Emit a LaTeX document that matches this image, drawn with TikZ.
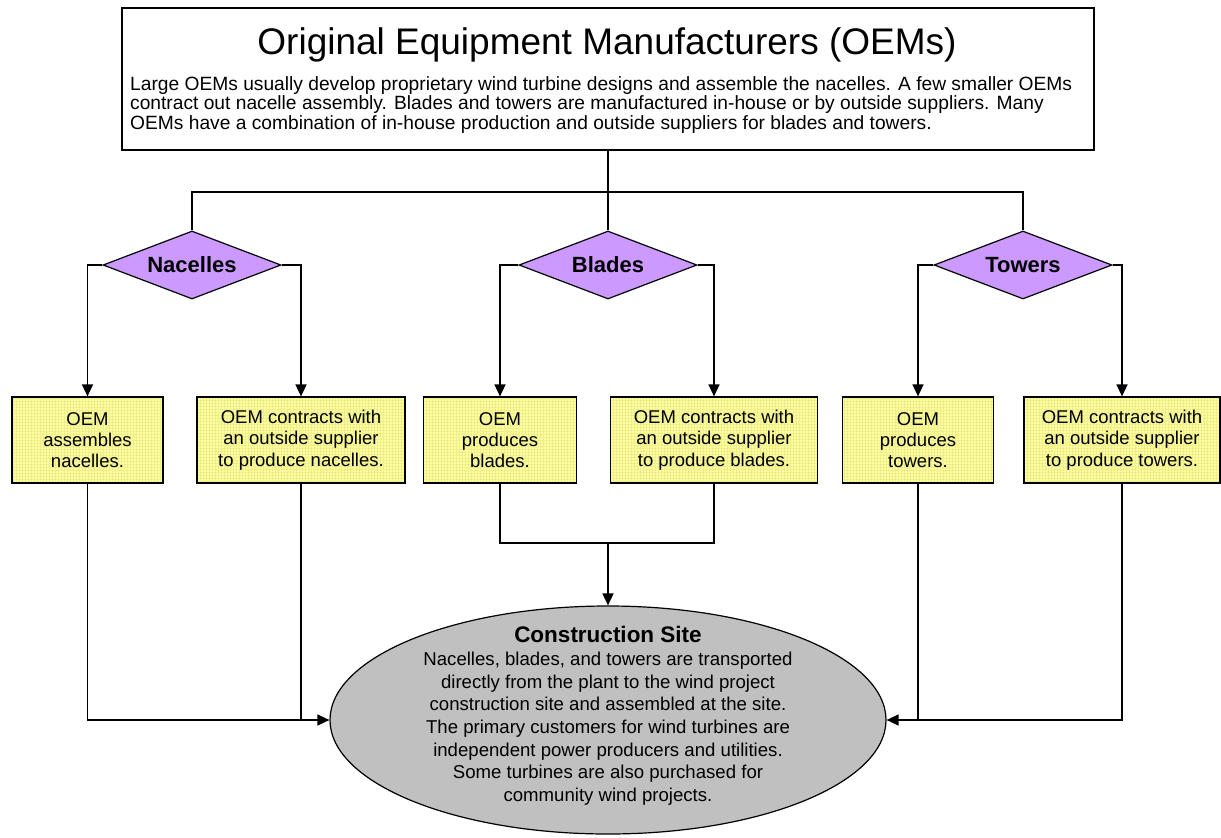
\documentclass[tikz,border=0pt]{standalone}
\usepackage{fontspec}
\setmainfont{Liberation Sans}
\usetikzlibrary{shapes.geometric,arrows.meta}
\definecolor{boxyellow}{HTML}{FFFF99}
\definecolor{gridyellow}{HTML}{EEEE90}
\definecolor{dpurple}{HTML}{CC99FF}
\definecolor{sitegray}{HTML}{C0C0C0}
\tikzset{
  conn/.style={line width=1.6pt},
  arr/.style={conn,-{Triangle[length=12pt,width=11pt]}},
  ybox/.style={draw,line width=1.2pt,fill=boxyellow,minimum height=86pt,align=center,inner sep=0pt,
    font=\fontsize{18.5}{21.3}\selectfont,
    path picture={\draw[gridyellow,line width=0.5pt,step=3pt]
      (path picture bounding box.south west) grid (path picture bounding box.north east);}},
  dia/.style={diamond,draw,line width=1.2pt,fill=dpurple,minimum width=178pt,minimum height=68pt,aspect=2.6,inner sep=0pt,font=\fontsize{22}{24}\selectfont\bfseries},
}
\begin{document}
\begin{tikzpicture}[x=1pt,y=-1pt]
\useasboundingbox (0,0) rectangle (1221,838);
% top box
\node[draw,line width=1.2pt,fill=white,minimum width=972pt,minimum height=142pt,inner sep=0pt] (oem) at (608,79) {};
\node[font=\fontsize{37}{40}\selectfont] (oemtitle) at (607,45) {Original Equipment Manufacturers (OEMs)};
\node[anchor=west,align=left,inner sep=0pt,font=\fontsize{19.2}{19.8}\selectfont] (oemtext) at (130,105) {Large OEMs usually develop proprietary wind turbine designs and assemble the nacelles. A few smaller OEMs\\contract out nacelle assembly. Blades and towers are manufactured in-house or by outside suppliers. Many\\OEMs have a combination of in-house production and outside suppliers for blades and towers.};
% diamonds
\node[dia] (nac) at (192,265) {Nacelles};
\node[dia] (bla) at (608,265) {Blades};
\node[dia] (tow) at (1023,265) {Towers};
% boxes
\node[ybox,minimum width=151pt] (b1) at (87.5,440) {OEM\\assembles\\nacelles.};
\node[ybox,minimum width=208pt] (b2) at (301,440) {OEM contracts with\\an outside supplier\\to produce nacelles.};
\node[ybox,minimum width=153pt] (b3) at (500,440) {OEM\\produces\\blades.};
\node[ybox,minimum width=207pt] (b4) at (714,440) {OEM contracts with\\an outside supplier\\to produce blades.};
\node[ybox,minimum width=151pt] (b5) at (918,440) {OEM\\produces\\towers.};
\node[ybox,minimum width=196pt] (b6) at (1122,440) {OEM contracts with\\an outside supplier\\to produce towers.};
% ellipse
\node[ellipse,draw,line width=1.2pt,fill=sitegray,minimum width=556pt,minimum height=228pt,inner sep=0pt] (site) at (608,720) {};
\node[align=center,inner sep=0pt,font=\fontsize{18.6}{22.7}\selectfont] (sitetext) at (608,716) {{\fontsize{22.5}{22.7}\selectfont\bfseries Construction Site}\\Nacelles, blades, and towers are transported\\directly from the plant to the wind project\\construction site and assembled at the site.\\The primary customers for wind turbines are\\independent power producers and utilities.\\Some turbines are also purchased for\\community wind projects.};
% connectors
\coordinate (bus) at (608,192);
\coordinate (bj) at (608,543);
\draw[conn] (oem.south) -- (bus);
\draw[conn] (nac.north) |- (bus) -| (tow.north);
\draw[conn] (bus) -- (bla.north);
\draw[arr] (nac.west) -| (b1.north);
\draw[arr] (nac.east) -| (b2.north);
\draw[arr] (bla.west) -| (b3.north);
\draw[arr] (bla.east) -| (b4.north);
\draw[arr] (tow.west) -| (b5.north);
\draw[arr] (tow.east) -| (b6.north);
\draw[conn] (b3.south) |- (bj) -| (b4.south);
\draw[arr] (bj) -- (site.north);
\draw[arr] (b1.south) |- (site.west);
\draw[conn] (b2.south) -- (b2.south |- site.west);
\draw[arr] (b6.south) |- (site.east);
\draw[conn] (b5.south) -- (b5.south |- site.east);
\end{tikzpicture}
\end{document}
